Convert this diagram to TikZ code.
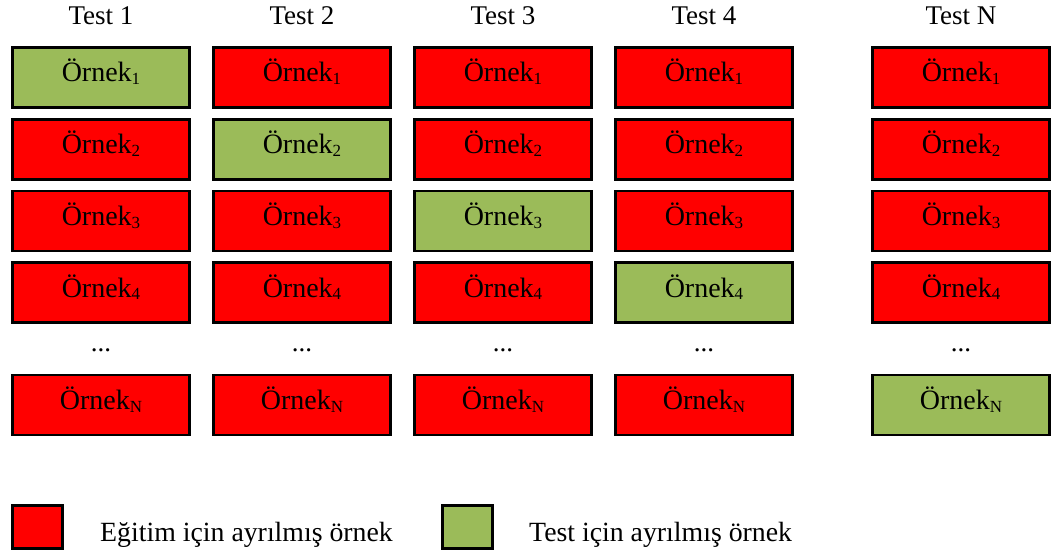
\documentclass[tikz,border=0pt]{standalone}
\usepackage{fontspec}
\setmainfont{Liberation Serif}
\definecolor{trainred}{RGB}{255,0,0}
\definecolor{testgreen}{RGB}{155,187,89}
\newcommand\idx[1]{{\fontsize{17}{17}\selectfont\raisebox{-2.5pt}{#1}}}
\tikzset{
  sample/.style={draw=black, line width=2.8pt, minimum width=177pt,
    minimum height=60pt, inner sep=0pt, text height=14pt, text depth=5pt,
    font=\fontsize{28}{30}\selectfont},
  keybox/.style={draw=black, line width=2.8pt, minimum width=50pt,
    minimum height=43pt, inner sep=0pt},
  label/.style={font=\fontsize{27}{30}\selectfont, inner sep=0pt},
  keytext/.style={font=\fontsize{27.8}{30}\selectfont, inner sep=0pt},
}
\begin{document}
\begin{tikzpicture}[x=1pt, y=-1pt]
  \useasboundingbox (0,0) rectangle (1051,556);
  % one column per test run, the held-out sample on the diagonal
  \foreach \c/\cx/\cl in {1/101/1, 2/302/2, 3/503/3, 4/704/4, 5/961/N} {
    \node[label, anchor=base] (h\c) at (\cx,25) {Test \cl};
    \foreach \r/\ry/\rl in {1/77.5/1, 2/149.5/2, 3/221/3, 4/292.5/4, 5/405/N} {
      \ifnum\r=\c \def\boxfill{testgreen}\else\def\boxfill{trainred}\fi
      \node[sample, fill=\boxfill] (s\c\r) at (\cx,\ry) {Örnek\idx{\rl}};
    }
    \node[label, anchor=base] (d\c) at (\cx,351) {...};
  }
  % legend
  \node[keybox, fill=trainred] (ktrain) at (37.5,527) {};
  \node[keytext, anchor=base west] (ttrain) at (100,541) {Eğitim için ayrılmış örnek};
  \node[keybox, fill=testgreen] (ktest) at (467.5,527) {};
  \node[keytext, anchor=base west] (ttest) at (529,541) {Test için ayrılmış örnek};
\end{tikzpicture}
\end{document}
